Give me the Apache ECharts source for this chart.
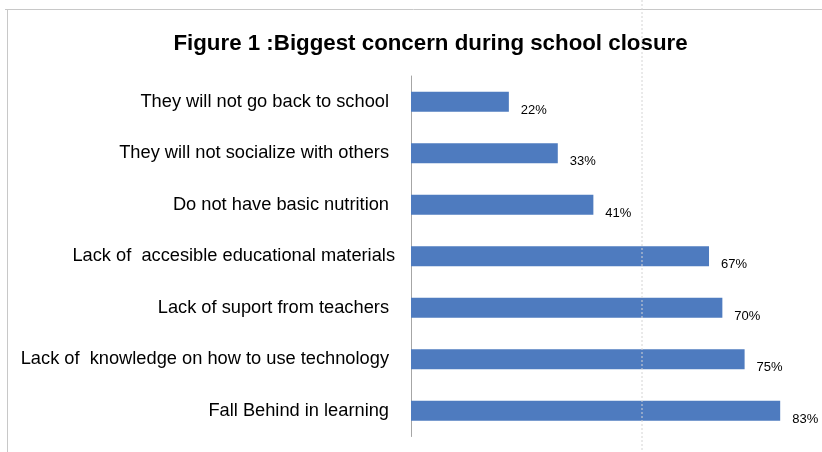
<!DOCTYPE html>
<html>
<head>
<meta charset="utf-8">
<script src="https://cdn.jsdelivr.net/npm/echarts@6/dist/echarts.min.js"></script>
<style>
html,body{margin:0;padding:0;background:#fff;}
#c{width:822px;height:452px;}
</style>
</head>
<body>
<div id="c"></div>
<script>
var categories = [
  "They will not go back to school",
  "They will not socialize with others",
  "Do not have basic nutrition",
  "Lack of  accesible educational materials",
  "Lack of suport from teachers",
  "Lack of  knowledge on how to use technology",
  "Fall Behind in learning"
];
var values = [22, 33, 41, 67, 70, 75, 83];
var titleText = "Figure 1 :Biggest concern during school closure";

var catData = categories.map(function(c, i){
  if (i === 3) return {value: c, textStyle: {padding: [0, -6, 0, 0]}};
  return c;
});

var chart = echarts.init(document.getElementById('c'), null, {renderer: 'canvas'});
chart.setOption({
  backgroundColor: '#ffffff',
  animation: false,
  title: {
    text: titleText,
    left: 425.5,
    top: 28,
    textAlign: 'center',
    textStyle: {fontFamily: 'Liberation Sans, Arial, sans-serif', fontWeight: 'bold', fontSize: 22.3, color: '#000'}
  },
  graphic: [
    {type: 'line', shape: {x1: 5, y1: 9.5, x2: 822, y2: 9.5}, style: {stroke: '#c8c8c8', lineWidth: 1}},
    {type: 'line', shape: {x1: 7.5, y1: 9.5, x2: 7.5, y2: 452}, style: {stroke: '#c8c8c8', lineWidth: 1}},
    {type: 'line', shape: {x1: 642, y1: 0, x2: 642, y2: 452}, style: {stroke: '#d4d4d4', lineWidth: 1, lineDash: [2, 2]}, z: 100}
  ],
  grid: {left: 411, top: 76, right: 0, height: 360.5, containLabel: false},
  xAxis: {
    type: 'value', min: 0, max: 92.4, show: false
  },
  yAxis: {
    type: 'category',
    data: catData,
    inverse: true,
    axisLine: {show: true, lineStyle: {color: '#a6a6a6', width: 1}},
    axisTick: {show: false},
    axisLabel: {
      margin: 22,
      fontFamily: 'Liberation Sans, Arial, sans-serif',
      fontSize: 18.25,
      color: '#000'
    }
  },
  series: [{
    type: 'bar',
    data: values,
    barWidth: 20,
    itemStyle: {color: '#4e7bbf'},
    label: {
      show: true,
      position: 'right',
      distance: 12,
      offset: [0, 8.5],
      formatter: function(p){ return p.value + '%'; },
      fontFamily: 'Liberation Sans, Arial, sans-serif',
      fontSize: 13,
      color: '#000'
    }
  }]
});
</script>
</body>
</html>
